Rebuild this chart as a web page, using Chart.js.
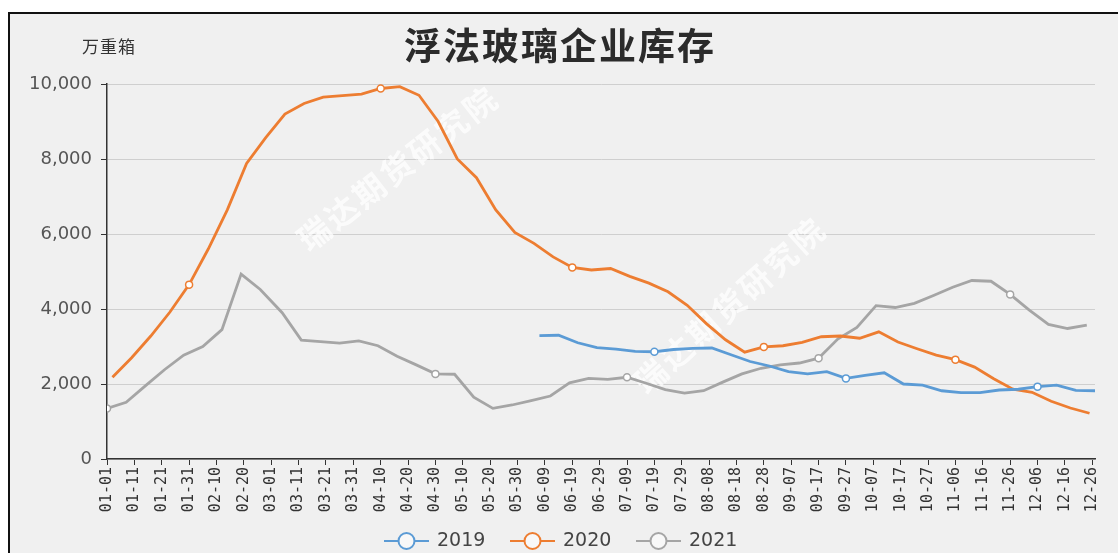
<!DOCTYPE html>
<html>
<head>
<meta charset="utf-8">
<script src="https://cdn.jsdelivr.net/npm/chart.js@4.4.0/dist/chart.umd.min.js"></script>
<style>
  body { margin: 0; background: #fff; }
</style>
</head>
<body>
<canvas id="stock" width="1118" height="553"></canvas>
<script>
const title = "浮法玻璃企业库存"
const unit = "万重箱"
const watermark = "瑞达期货研究院"
const years = ["2019", "2020", "2021"]
const colors = ["#5b9bd5", "#ed7d31", "#a5a5a5"]

// weekly readings (Fridays), first date of each series
const start2019 = [2019, 6, 7]
const start2020 = [2020, 1, 3]
const start2021 = [2021, 1, 1]

const stock2019 = [
  3290, 3300, 3100, 2970, 2930, 2870, 2860, 2920, 2950, 2960,
  2780, 2600, 2480, 2330, 2270, 2330, 2150, 2230, 2300, 2000,
  1970, 1820, 1770, 1770, 1840, 1860, 1930, 1970, 1830, 1820,
]
const stock2020 = [
  2180, 2700, 3280, 3920, 4650, 5600, 6650, 7880, 8570, 9200,
  9480, 9650, 9690, 9730, 9880, 9930, 9700, 9000, 8000, 7500,
  6650, 6040, 5750, 5390, 5110, 5040, 5080, 4870, 4690, 4460,
  4100, 3610, 3180, 2850, 2990, 3020, 3110, 3260, 3280, 3220,
  3390, 3120, 2940, 2770, 2650, 2450, 2140, 1860, 1780, 1540,
  1360, 1220,
]
const stock2021 = [
  1350, 1510, 1950, 2380, 2770, 3000, 3450, 4930, 4520, 3900,
  3170, 3130, 3090, 3150, 3020, 2740, 2510, 2270, 2260, 1650,
  1350, 1440, 1555, 1680, 2030, 2150, 2125, 2180, 2020, 1850,
  1755, 1820, 2050, 2270, 2420, 2510, 2560, 2690, 3200, 3510,
  4090, 4040, 4150, 4360, 4580, 4760, 4740, 4390, 3970, 3590,
  3480, 3570,
]

const yTicks = [0, 2000, 4000, 6000, 8000, 10000]
const labelStep = 10   // one axis label every 10 days
const lastDay = 361     // 12-27

// dates are placed on a 2020 (leap) month-day axis
const DAY = 86400000
const base = Date.UTC(2020, 0, 1)
const pad = (n) => String(n).padStart(2, "0")

function weekly([y, m, d], n) {
  const out = []
  for (let i = 0; i < n; i++) {
    const t = new Date(Date.UTC(y, m - 1, d + 7 * i))
    out.push(pad(t.getUTCMonth() + 1) + "-" + pad(t.getUTCDate()))
  }
  return out
}
function dayIndex(md) {
  const [m, d] = md.split("-").map(Number)
  return (Date.UTC(2020, m - 1, d) - base) / DAY
}
function monthDay(i) {
  const t = new Date(base + i * DAY)
  return pad(t.getUTCMonth() + 1) + "-" + pad(t.getUTCDate())
}

const dates2019 = weekly(start2019, stock2019.length)
const dates2020 = weekly(start2020, stock2020.length)
const dates2021 = weekly(start2021, stock2021.length)

const points = (dates, values) => dates.map((d, i) => ({ x: dayIndex(d), y: values[i] }))

const series = [
  points(dates2019, stock2019),
  points(dates2020, stock2020),
  points(dates2021, stock2021),
]

const decor = {
  id: "decor",
  beforeDraw(chart) {
    const ctx = chart.ctx
    ctx.save()
    ctx.fillStyle = "#fff"
    ctx.fillRect(0, 0, chart.width, chart.height)
    ctx.fillStyle = "#f0f0f0"
    ctx.fillRect(9, 13, chart.width, chart.height)
    ctx.strokeStyle = "#111"
    ctx.lineWidth = 2
    ctx.strokeRect(9, 13, chart.width + 10, chart.height + 10)

    ctx.fillStyle = "#2b2b2b"
    ctx.textAlign = "center"
    ctx.textBaseline = "middle"
    ctx.font = "bold 37px 'Noto Sans CJK SC'"
    ctx.letterSpacing = "2px"
    ctx.fillText(title, 560, 46)
    ctx.fillStyle = "#333"
    ctx.font = "17px 'Noto Sans CJK SC'"
    ctx.letterSpacing = "1px"
    ctx.fillText(unit, 109, 47)
    ctx.restore()
  },
  beforeDatasetsDraw(chart) {
    const ctx = chart.ctx
    ctx.save()
    ctx.fillStyle = "rgba(255,255,255,0.75)"
    ctx.font = "bold 32px 'Noto Sans CJK SC'"
    ctx.textAlign = "center"
    ctx.textBaseline = "middle"
    ctx.letterSpacing = "3px"
    for (const [x, y, a] of [[398, 168, -38], [730, 305, -42]]) {
      ctx.save()
      ctx.translate(x, y)
      ctx.rotate((a * Math.PI) / 180)
      ctx.fillText(watermark, 0, 0)
      ctx.restore()
    }
    ctx.restore()
  },
  afterDraw(chart) {
    const ctx = chart.ctx
    ctx.save()
    ctx.font = "19px 'DejaVu Sans'"
    ctx.textBaseline = "middle"
    ctx.textAlign = "left"
    let x = 384
    const y = 541
    years.forEach((name, i) => {
      ctx.strokeStyle = colors[i]
      ctx.lineWidth = 2
      ctx.beginPath()
      ctx.moveTo(x, y)
      ctx.lineTo(x + 45, y)
      ctx.stroke()
      ctx.beginPath()
      ctx.arc(x + 22.5, y, 8, 0, Math.PI * 2)
      ctx.fillStyle = "#f8f8f8"
      ctx.fill()
      ctx.stroke()
      ctx.fillStyle = "#444"
      ctx.fillText(name, x + 53, y)
      x += 126
    })
    ctx.restore()
  },
}

new Chart(document.getElementById("stock"), {
  type: "line",
  data: {
    datasets: years.map((name, i) => ({
      label: name,
      data: series[i],
      borderColor: colors[i],
      backgroundColor: "#fff",
      borderWidth: 2.8,
      tension: 0,
      pointRadius: (c) => (c.parsed && c.parsed.x % labelStep === 0 ? 3.5 : 0),
      pointBorderWidth: 1.5,
      pointBackgroundColor: "#fff",
      pointBorderColor: colors[i],
    })),
  },
  options: {
    responsive: false,
    animation: false,
    events: [],
    layout: { padding: { top: 84, right: 23, bottom: 0, left: 0 } },
    plugins: {
      legend: { display: false },
      title: { display: false },
      tooltip: { enabled: false },
    },
    scales: {
      x: {
        type: "linear",
        min: 0,
        max: lastDay,
        afterBuildTicks(scale) {
          const t = []
          for (let v = 0; v <= lastDay; v += labelStep) t.push({ value: v })
          scale.ticks = t
        },
        afterFit(scale) {
          scale.height = 94
        },
        grid: { drawOnChartArea: false, tickLength: 6, tickColor: "#333" },
        border: { color: "#333", width: 1.5 },
        ticks: {
          autoSkip: false,
          minRotation: 90,
          maxRotation: 90,
          padding: 2,
          color: "#333",
          font: { family: "'DejaVu Sans Mono'", size: 15 },
          callback: (v) => monthDay(v),
        },
      },
      y: {
        min: 0,
        max: 10000,
        afterBuildTicks(scale) {
          scale.ticks = yTicks.map((v) => ({ value: v }))
        },
        afterFit(scale) {
          scale.width = 107
        },
        grid: { color: "#cfcfcf", lineWidth: 1, tickLength: 6, tickColor: "#333" },
        border: { color: "#333", width: 1.5 },
        ticks: {
          padding: 9,
          color: "#555",
          font: { family: "'DejaVu Sans'", size: 18 },
          callback: (v) => v.toLocaleString("en-US"),
        },
      },
    },
  },
  plugins: [decor],
})
</script>
</body>
</html>
